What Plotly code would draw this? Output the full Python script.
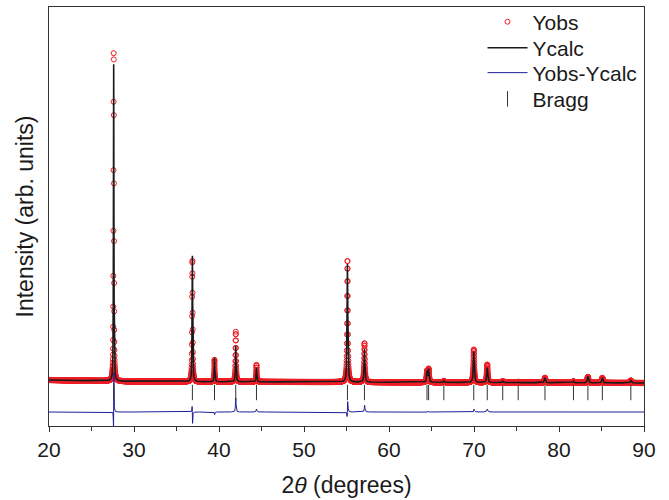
import numpy as np
import plotly.graph_objects as go

peak_pos = [27.61, 36.87, 39.47, 41.97, 44.41, 55.11, 57.11, 64.47, 64.66, 66.45,
            69.97, 71.56, 73.38, 75.20, 78.35, 81.70, 83.40, 85.10, 88.45]
calc_height = [317, 126, 24, 36, 14, 118, 33, 11, 13, 1.5,
               31, 15, 1.5, 0.8, 5, 1.5, 6.5, 5, 2.5]
obs_height = [333, 122, 22, 50, 17, 122, 39, 11, 13, 1.5,
              33, 18, 1.5, 0.8, 5, 1.5, 6.0, 5, 2.5]
obs_shift = [0.004, -0.004, -0.003, 0.0, 0.0, 0.005, 0.004, 0.006, 0.0, 0.0,
             0.004, 0.0, 0.0, 0.0, 0.0, 0.0, -0.005, 0.0, 0.0]
bragg_pos = peak_pos

# background knots
bg_x = [20, 30, 50, 90]
bg_y = [2.0, 0.5, 0.0, -1.0]

diff_offset = -30
bragg_level = -10.5


def profile(x, pos, height, shift):
    y = np.interp(x, bg_x, bg_y)
    for p, h, s in zip(pos, height, shift):
        hw = 0.025 + 0.0008 * (p - 20)  # half width grows with angle
        d = (x - p - s) / hw
        y = y + h * (0.8 / (1 + d ** 2) + 0.2 * np.exp(-np.log(2) * d ** 2))
    return y


two_theta = np.arange(20, 90.0001, 0.01)
y_calc = profile(two_theta, peak_pos, calc_height, [0] * len(peak_pos))
y_obs = profile(two_theta, peak_pos, obs_height, obs_shift)
y_diff = y_obs - y_calc + diff_offset

fig = go.Figure()
fig.add_trace(go.Scatter(
    x=two_theta, y=y_obs, mode='markers', name='Yobs', legend='legend',
    marker=dict(symbol='circle-open', size=5, color='#ee1c25', line=dict(width=1))
))
fig.add_trace(go.Scatter(
    x=two_theta, y=y_calc, mode='lines', name='Ycalc', legend='legend2',
    line=dict(color='#1a1a1a', width=1.6)
))
fig.add_trace(go.Scatter(
    x=two_theta, y=y_diff, mode='lines', name='Yobs-Ycalc', legend='legend3',
    line=dict(color='#1c1c9a', width=1)
))
fig.add_trace(go.Scatter(
    x=bragg_pos, y=[bragg_level] * len(bragg_pos), mode='markers', name='Bragg',
    legend='legend4',
    marker=dict(symbol='line-ns-open', size=11, color='#333333', line=dict(width=1))
))

# one legend per entry so the rows can sit as tightly as in the original
legend_style = dict(
    x=0.7286, xanchor='left', yanchor='middle',
    bgcolor='rgba(0,0,0,0)', borderwidth=0,
    itemwidth=40, font=dict(size=21),
)

fig.update_layout(
    width=669,
    height=500,
    paper_bgcolor='white',
    plot_bgcolor='white',
    font=dict(family='Liberation Sans, Arial, sans-serif', size=20, color='#1a1a1a'),
    margin=dict(l=49, r=25, t=7, b=74, autoexpand=False),
    showlegend=True,
    legend=dict(legend_style, y=0.964),
    legend2=dict(legend_style, y=0.902),
    legend3=dict(legend_style, y=0.8425),
    legend4=dict(legend_style, y=0.780),
    xaxis=dict(
        range=[20, 90],
        dtick=10,
        ticks='outside', ticklen=5, tickwidth=1, tickcolor='#333',
        minor=dict(dtick=5, ticks='outside', ticklen=4, tickcolor='#333'),
        showline=True, linecolor='#333', linewidth=1, mirror=True,
        showgrid=False, zeroline=False, automargin=False,
        tickfont=dict(size=21),
        title=dict(text='2<i>θ</i> (degrees)', font=dict(size=23), standoff=16),
    ),
    yaxis=dict(
        range=[-44, 375],
        showticklabels=False, ticks='',
        showline=True, linecolor='#333', linewidth=1, mirror=True,
        showgrid=False, zeroline=False, automargin=False,
        title=dict(text='Intensity (arb. units)', font=dict(size=23), standoff=7),
    ),
)

# drop the default page margin so the figure sits at the window corner
fig.write_html("out.html", config={'displayModeBar': False},
               post_script="document.body.style.margin='0px';")
